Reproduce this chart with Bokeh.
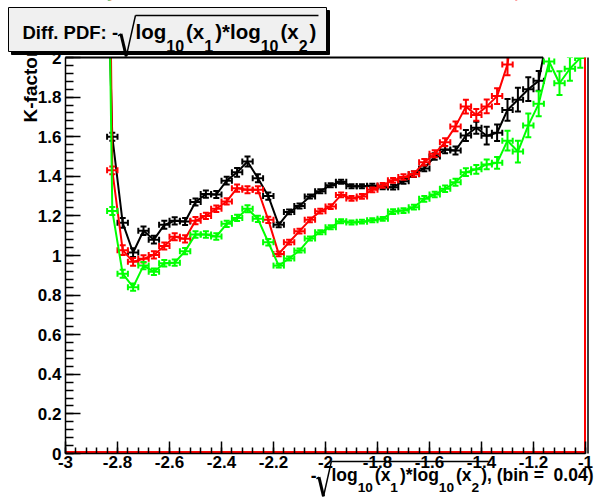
import math
import numpy as np
from bokeh.plotting import figure
from bokeh.models import Range1d, FixedTicker, CustomJSTickFormatter, LinearAxis, ColumnDataSource
from bokeh.core.properties import value
from bokeh.embed import file_html
from bokeh.resources import INLINE

# ---------------------------------------------------------------- data
# 50 bins of width 0.04 between -3 and -1
x_lo, x_hi, bin_w = -3.0, -1.0, 0.04
y_lo, y_hi = 0.0, 2.0
bin_centers = [round(x_lo + bin_w / 2 + i * bin_w, 2) for i in range(50)]

N = None
k_black = [N, N, N, 3.6, 1.600, 1.165, 1.015, 1.125, 1.080, 1.155,
           1.175, 1.172, 1.270, 1.310, 1.308, 1.378, 1.420, 1.475, 1.390, 1.300,
           1.155, 1.220, 1.250, 1.298, 1.325, 1.355, 1.372, 1.350, 1.350, 1.352,
           1.345, 1.345, 1.375, 1.410, 1.440, 1.500, 1.535, 1.530, 1.606, 1.645,
           1.605, 1.620, 1.735, 1.787, 1.840, 1.882, 2.160, N, N, N]
e_black = [N, N, N, N, 0.020, 0.025, 0.022, 0.022, 0.020, 0.020,
           0.018, 0.018, 0.018, 0.018, 0.018, 0.020, 0.022, 0.025, 0.020, 0.018,
           0.012, 0.012, 0.012, 0.010, 0.010, 0.010, 0.010, 0.010, 0.010, 0.010,
           0.010, 0.012, 0.012, 0.014, 0.014, 0.016, 0.018, 0.020, 0.028, 0.030,
           0.045, 0.042, 0.055, 0.060, 0.060, 0.050, 0.060, N, N, N]

k_red = [N, N, N, 6.0, 1.430, 1.027, 0.968, 0.983, 1.003, 1.048,
         1.095, 1.084, 1.176, 1.200, 1.236, 1.273, 1.340, 1.332, 1.332, 1.180,
         1.008, 1.067, 1.123, 1.180, 1.224, 1.247, 1.306, 1.288, 1.298, 1.332,
         1.354, 1.380, 1.396, 1.412, 1.471, 1.514, 1.572, 1.652, 1.752, 1.710,
         1.753, 1.805, 1.965, 2.350, N, N, N, N, N, N]
e_red = [N, N, N, N, 0.020, 0.025, 0.020, 0.018, 0.018, 0.018,
         0.018, 0.018, 0.018, 0.016, 0.016, 0.016, 0.018, 0.018, 0.018, 0.016,
         0.012, 0.012, 0.012, 0.012, 0.012, 0.012, 0.012, 0.012, 0.012, 0.012,
         0.012, 0.012, 0.014, 0.014, 0.016, 0.018, 0.020, 0.025, 0.035, 0.030,
         0.035, 0.040, 0.055, N, N, N, N, N, N, N]

k_green = [N, N, N, 5.0, 1.225, 0.908, 0.840, 0.949, 0.918, 0.961,
           0.964, 1.022, 1.106, 1.106, 1.096, 1.160, 1.190, 1.236, 1.185, 1.067,
           0.949, 0.985, 1.025, 1.086, 1.117, 1.143, 1.173, 1.167, 1.171, 1.178,
           1.185, 1.222, 1.227, 1.244, 1.286, 1.308, 1.337, 1.370, 1.421, 1.435,
           1.460, 1.468, 1.580, 1.525, 1.657, 1.766, 1.980, 1.870, 1.943, 1.998]
e_green = [N, N, N, N, 0.020, 0.020, 0.018, 0.018, 0.016, 0.016,
           0.016, 0.016, 0.016, 0.016, 0.016, 0.016, 0.016, 0.018, 0.016, 0.016,
           0.010, 0.010, 0.010, 0.010, 0.010, 0.010, 0.010, 0.010, 0.010, 0.010,
           0.010, 0.012, 0.012, 0.012, 0.014, 0.014, 0.016, 0.018, 0.020, 0.022,
           0.025, 0.030, 0.050, 0.055, 0.060, 0.063, 0.050, 0.060, 0.060, 0.050]

x_ticks = [-3.0, -2.8, -2.6, -2.4, -2.2, -2.0, -1.8, -1.6, -1.4, -1.2, -1.0]
y_ticks = [0.0, 0.2, 0.4, 0.6, 0.8, 1.0, 1.2, 1.4, 1.6, 1.8, 2.0]

# ---------------------------------------------------------------- canvas
# The plotting frame fills the whole canvas; the histogram box sits at
# FL..FR x FT..FB canvas pixels and everything outside it is masked.
W, H = 595, 501
FL, FR, FT, FB = 65, 585, 57, 453


def X(px):
    return x_lo + (px - FL) * (x_hi - x_lo) / (FR - FL)


def Y(py):
    return y_lo + (FB - py) * (y_hi - y_lo) / (FB - FT)


FONT = "Liberation Sans"

p = figure(width=W, height=H, x_range=Range1d(X(0), X(W)), y_range=Range1d(Y(H), Y(0)),
           output_backend="svg", toolbar_location=None,
           x_axis_location=None, y_axis_location=None,
           min_border=0, min_border_left=0, min_border_right=0,
           min_border_top=0, min_border_bottom=0)
p.center = []
p.title.visible = False
p.outline_line_color = None
p.background_fill_color = "white"
p.border_fill_color = "white"

# ---------------------------------------------------------------- series
series = [(k_black, e_black, "black"), (k_red, e_red, "#ff0000"), (k_green, e_green, "#00ff00")]
half = bin_w / 2
for vals, errs, col in series:
    y = [np.nan if v is None else v for v in vals]
    p.line(bin_centers, y, line_color=col, line_width=2)
    xs, ys, es = [], [], []
    for c, v, e in zip(bin_centers, vals, errs):
        if v is not None and e is not None and v <= y_hi:
            xs.append(c); ys.append(v); es.append(e)
    src = ColumnDataSource(dict(
        x=xs, y=ys, xl=[c - half for c in xs], xr=[c + half for c in xs],
        lo=[v - e for v, e in zip(ys, es)], hi=[v + e for v, e in zip(ys, es)]))
    p.segment("xl", "y", "xr", "y", source=src, line_color=col, line_width=2)
    p.segment("x", "lo", "x", "hi", source=src, line_color=col, line_width=2)
    for cx, cy, ang in (("xl", "y", math.pi / 2), ("xr", "y", math.pi / 2),
                        ("x", "lo", 0.0), ("x", "hi", 0.0)):
        p.scatter(cx, cy, source=src, marker="dash", size=6, angle=ang,
                  line_color=col, line_width=2)

# mask everything drawn outside the histogram box
mask = dict(fill_color="white", line_color=None)
p.quad(left=X(0), right=X(W), bottom=y_hi, top=Y(0), **mask)
p.quad(left=X(0), right=X(W), bottom=Y(H), top=y_lo, **mask)
p.quad(left=X(0), right=x_lo, bottom=y_lo, top=y_hi, **mask)
p.quad(left=x_hi, right=X(W), bottom=y_lo, top=y_hi, **mask)


def seg(x0, y0, x1, y1, width=1.5, color="black", level="glyph"):
    p.segment(x0=[X(x0)], y0=[Y(y0)], x1=[X(x1)], y1=[Y(y1)],
              line_color=color, line_width=width, level=level)


# histogram box edges: red along the bottom and the right side,
# black on top up to where the black curve leaves the box
seg(FL, FB - 1.5, FR, FB - 1.5, 2, "#ff0000")
seg(FR - 0.5, FB, FR - 0.5, FT, 2, "#ff0000")
seg(FR + 2.5, FB, FR + 2.5, FT, 1.5)
i_top = next(i for i in range(5, 50) if k_black[i] is not None and k_black[i] > y_hi)
xa, ya, xb, yb = bin_centers[i_top - 1], k_black[i_top - 1], bin_centers[i_top], k_black[i_top]
x_exit = xa + (y_hi - ya) * (xb - xa) / (yb - ya)
p.segment(x0=[x_lo], y0=[y_hi], x1=[x_exit], y1=[y_hi], line_color="black", line_width=2)

# ---------------------------------------------------------------- axes
fmt = CustomJSTickFormatter(code="return String(Math.round(tick*10)/10);")
minor_x = [round(x_lo + i * 0.04, 2) for i in range(51)]
minor_y = [round(i * 0.04, 2) for i in range(51)]
xaxis = LinearAxis(fixed_location=y_lo, bounds=(x_lo, x_hi),
                   ticker=FixedTicker(ticks=x_ticks, minor_ticks=minor_x))
yaxis = LinearAxis(fixed_location=x_lo, bounds=(y_lo, y_hi),
                   ticker=FixedTicker(ticks=y_ticks, minor_ticks=minor_y))
for ax, tin, mtin in ((xaxis, 12, 6), (yaxis, 15, 8)):
    ax.formatter = fmt
    ax.major_tick_in = tin
    ax.major_tick_out = 0
    ax.minor_tick_in = mtin
    ax.minor_tick_out = 0
    ax.axis_line_color = "black"
    ax.axis_line_width = 1.5
    ax.major_tick_line_width = 1.5
    ax.minor_tick_line_width = 1.5
    ax.major_label_text_font = FONT
    ax.major_label_text_font_style = "bold"
    ax.major_label_text_font_size = "17px"
    ax.major_label_text_color = "black"
xaxis.major_label_standoff = 2
yaxis.major_label_standoff = 4
p.add_layout(xaxis, "below")
p.add_layout(yaxis, "left")

# ---------------------------------------------------------------- texts
ADV = {' ': 278, '\u00a0': 278, '(': 333, ')': 333, '*': 389, ',': 278, '-': 333,
       '.': 278, ':': 333, '=': 584, 'D': 722, 'F': 611, 'P': 667, 'K': 722,
       'b': 611, 'f': 333, 'g': 611, 'i': 278, 'l': 278, 'n': 611, 'o': 611,
       'x': 556, 'a': 556, 'c': 556, 't': 333, 'r': 389}
MID = 0.36   # half the cap height, in em: texts are anchored on their middle


def adv(s, size):
    return sum(ADV.get(ch, 556) for ch in s) * size / 1000.0


def put_text(x, base, txt, size, level="glyph"):
    p.text(x=[X(x)], y=[Y(base - MID * size)], text=[txt],
           text_font=value(FONT), text_font_style="bold",
           text_font_size=value(f"{size:.1f}px"), text_color="black",
           text_align="left", text_baseline="middle", level=level)


def formula(pieces, base, m, left=None, right=None, sub=0.78, drop=0.62,
            gap=2.0, level="glyph"):
    """Lay out text pieces left to right: plain text ('n', optionally with its own
    size), subscripts ('sub'), an opening radical ('root') and its bar ('close')."""
    s = sub * m

    def wid(t, k, size):
        if k == "n":
            return adv(t, size or m)
        if k == "sub":
            return adv(t, s) + gap
        if k == "root":
            return 0.85 * m
        return 0.0

    total = sum(wid(*pc) for pc in pieces)
    x = left if left is not None else right - total
    root_x = None
    top = base - 1.15 * m
    for t, k, size in pieces:
        if k == "n":
            put_text(x, base, t, size or m, level=level)
        elif k == "sub":
            put_text(x, base + drop * m, t, s, level=level)
        elif k == "root":
            seg(x, base - 0.15 * m, x + 0.14 * m, base - 0.25 * m, 1.5, level=level)
            seg(x + 0.14 * m, base - 0.25 * m, x + 0.40 * m, base + 0.85 * m, 3, level=level)
            seg(x + 0.40 * m, base + 0.85 * m, x + 0.85 * m, top, 1.5, level=level)
            root_x = x + 0.85 * m
        elif k == "close":
            seg(root_x, top, x + 0.1 * m, top, 1.5, level=level)
        x += wid(t, k, size)


sqrt_body = [("log", "n", None), ("10", "sub", None), ("(x", "n", None), ("1", "sub", None),
             (")*log", "n", None), ("10", "sub", None), ("(x", "n", None), ("2", "sub", None),
             (")", "n", None)]

# y axis title (its end is hidden under the title box), reading upwards
p.text(x=[X(37 - MID * 19)], y=[Y(122)], text=["K-factor"], angle=math.pi / 2,
       text_font=value(FONT), text_font_style="bold", text_font_size=value("19px"),
       text_color="black", text_align="left", text_baseline="middle")

# x axis title
formula([("-", "n", None), ("", "root", None)] + sqrt_body +
        [("", "close", None), (", (bin = \u00a00.04)", "n", None)],
        base=481, m=17.5, right=593)

# title box with its shadow, drawn above the axes
p.quad(left=X(11), right=X(329), top=Y(10), bottom=Y(54),
       fill_color="black", line_color="black", level="overlay")
p.quad(left=X(8), right=X(326), top=Y(7), bottom=Y(51),
       fill_color="#f0f0f0", line_color="black", line_width=1, level="overlay")
formula([("Diff. PDF: -", "n", 18.5), ("", "root", None)] + sqrt_body + [("", "close", None)],
        base=38.5, m=20.5, left=22, level="overlay")

open("out.html", "w").write(file_html(p, INLINE))
